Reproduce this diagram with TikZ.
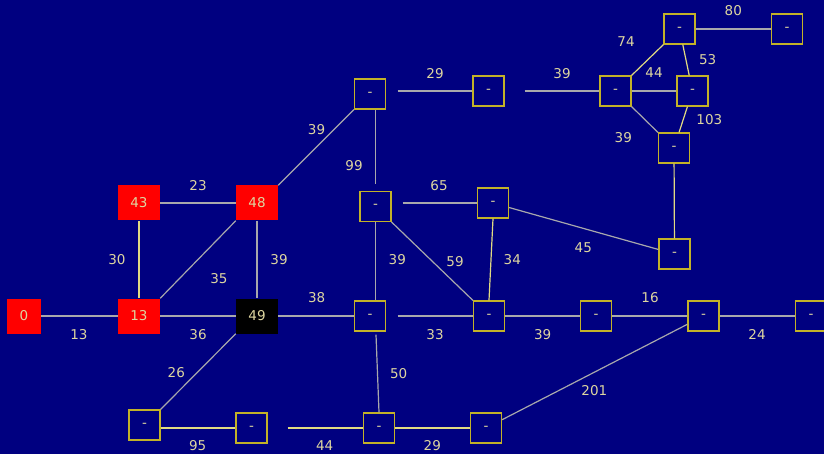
\documentclass[tikz,border=0pt]{standalone}
\usepackage{fontspec}
\setmainfont{DejaVu Sans}
\usetikzlibrary{calc}
\definecolor{bg}{RGB}{0,0,128}
\definecolor{lab}{RGB}{222,214,160}
\definecolor{boxc}{RGB}{195,178,40}
\definecolor{edg}{RGB}{168,168,172}
\definecolor{edy}{RGB}{225,218,130}
\begin{document}
\begin{tikzpicture}[x=1pt,y=-1pt,
  every node/.style={font=\fontsize{13.5}{15}\selectfont, text=lab},
  dbox/.style={draw=boxc, line width=1.2pt, minimum width=31pt, minimum height=30pt, inner sep=0pt},
  rbox/.style={fill=red, minimum width=42pt, minimum height=35pt, inner sep=0pt},
  kbox/.style={fill=black, minimum width=42pt, minimum height=35pt, inner sep=0pt},
  edge/.style={draw=edg, line width=1.2pt},
  edgey/.style={draw=edy, line width=1.2pt},
  lbl/.style={inner sep=0pt}]
\fill[bg] (0,0) rectangle (824,454);
\useasboundingbox (0,0) rectangle (824,454);
% filled nodes
\node[rbox, minimum width=34pt] (n0) at (24,316) {0};
\node[rbox] (n13) at (139,316) {13};
\node[rbox] (n43) at (139,203) {43};
\node[rbox] (n48) at (257,203) {48};
\node[kbox] (n49) at (257,316) {49};
% dash nodes
\node[dbox] (A) at (370,94) {-};
\node[dbox] (B) at (488.5,91) {-};
\node[dbox] (C) at (375.5,206.5) {-};
\node[dbox] (D) at (493,203) {-};
\node[dbox] (E) at (679.5,29) {-};
\node[dbox] (F) at (787,29) {-};
\node[dbox] (G) at (615.5,91) {-};
\node[dbox] (H) at (692.5,91) {-};
\node[dbox] (I) at (674,148) {-};
\node[dbox] (J) at (674.5,254) {-};
\node[dbox] (K) at (370,316) {-};
\node[dbox] (L) at (489,316) {-};
\node[dbox] (M) at (596,316) {-};
\node[dbox] (N) at (703.5,316) {-};
\node[dbox] (O) at (811,316) {-};
\node[dbox] (P) at (144.5,425) {-};
\node[dbox] (Q) at (251.5,428) {-};
\node[dbox] (R) at (379,428) {-};
\node[dbox] (S) at (486,428) {-};
% edges
\draw[edge] (n0) -- (n13);
\draw[edgey] (n13) -- (n43);
\draw[edge] (n43) -- (n48);
\draw[edge] (n13.north east) -- (n48.south west);
\draw[edge] (n48) -- (n49);
\draw[edge] (n13) -- (n49);
\draw[edge] (n48.north east) -- (A.south west);
\draw[edge] (n49) -- (K);
\draw[edge] (n49.south west) -- (P.north east);
\draw[edge, shorten <=11.5pt] (A.east |- B) -- (B.west);
\draw[edge, shorten <=20pt] (B) -- (G);
\draw[edge, shorten >=6.5pt] (A.south -| C) -- (C.north);
\draw[edge, shorten <=11pt] (C.east |- D) -- (D.west);
\draw[edge] (C.south) -- (C.south |- K.north);
\draw[edge] (C.south east) -- (L.north west);
\draw[edgey] (D.south) -- (L.north);
\draw[edge] (D) -- (J);
\draw[edge, shorten <=11.5pt] (K) -- (L);
\draw[edge] (L) -- (M);
\draw[edge] (M) -- (N);
\draw[edge] (N) -- (O);
\draw[edge] (N) -- (S);
\draw[edge] ([xshift=6pt,yshift=-3pt]K.south) -- (R.north);
\draw[edgey] (P.east |- Q) -- (Q.west);
\draw[edgey, shorten <=20pt] (Q) -- (R);
\draw[edgey] (R) -- (S);
\draw[edgey] (G.north east) -- (E.south west);
\draw[edge] (E) -- (F);
\draw[edgey] (E) -- (H);
\draw[edge] (G) -- (H);
\draw[edge] (G.south east) -- (I.north west);
\draw[edgey] (H) -- (I);
\draw[edgey] (I) -- (J);
% labels
\node[lbl] (l1) at (79,334.5) {13};
\node[lbl] (l2) at (117,259.3) {30};
\node[lbl] (l3) at (198,185.5) {23};
\node[lbl] (l4) at (219,278.5) {35};
\node[lbl] (l5) at (279,259.3) {39};
\node[lbl] (l6) at (198,334.5) {36};
\node[lbl] (l7) at (316.5,129.3) {39};
\node[lbl] (l8) at (316.7,297.7) {38};
\node[lbl] (l9) at (176.3,372.7) {26};
\node[lbl] (l10) at (435,73.3) {29};
\node[lbl] (l11) at (562,73.3) {39};
\node[lbl] (l12) at (354,166) {99};
\node[lbl] (l13) at (439,185.3) {65};
\node[lbl] (l14) at (397.3,259.3) {39};
\node[lbl] (l15) at (455,261.3) {59};
\node[lbl] (l16) at (512.3,259.3) {34};
\node[lbl] (l17) at (583.3,247.3) {45};
\node[lbl] (l18) at (435,334.5) {33};
\node[lbl] (l19) at (542.7,334.7) {39};
\node[lbl] (l20) at (650,297.7) {16};
\node[lbl] (l21) at (757,334.7) {24};
\node[lbl] (l22) at (594.3,390.7) {201};
\node[lbl] (l23) at (398.7,374) {50};
\node[lbl] (l24) at (197.7,446) {95};
\node[lbl] (l25) at (324.7,446) {44};
\node[lbl] (l26) at (432.3,446) {29};
\node[lbl] (l27) at (626,42) {74};
\node[lbl] (l28) at (733.3,11) {80};
\node[lbl] (l29) at (707.7,60) {53};
\node[lbl] (l30) at (654,72.7) {44};
\node[lbl] (l31) at (623.3,137.7) {39};
\node[lbl] (l32) at (709.3,120) {103};
\end{tikzpicture}
\end{document}
